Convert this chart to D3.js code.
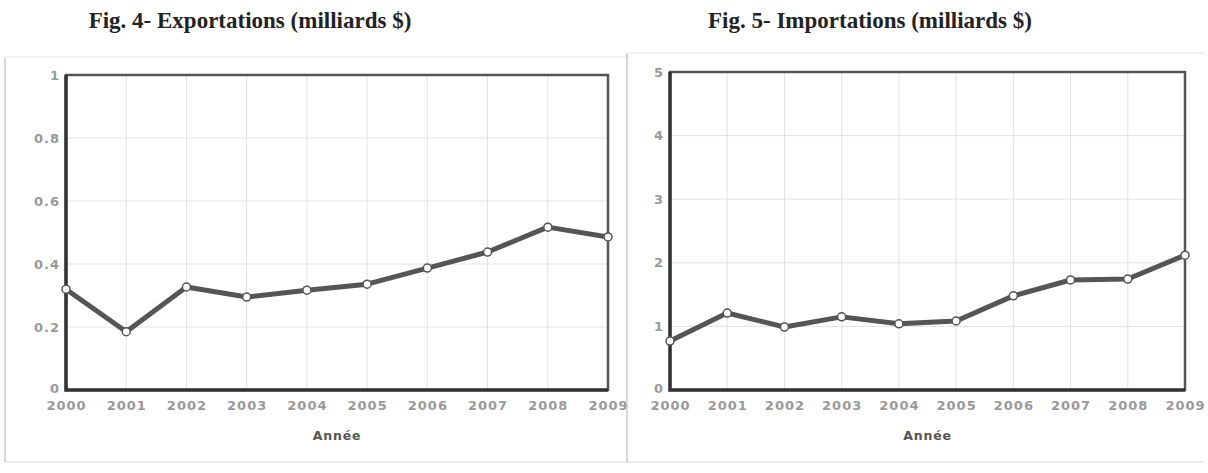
<!DOCTYPE html>
<html>
<head>
<meta charset="utf-8">
<script src="https://cdn.jsdelivr.net/npm/d3@7"></script>
<style>
  body { margin: 0; background: #fff; }
  .title { font-family: "Liberation Serif", "Times New Roman", serif; font-weight: bold; font-size: 23px; fill: #222; }
  .tick text { font-family: "DejaVu Sans", Verdana, sans-serif; font-size: 13px; font-weight: bold; fill: #999; letter-spacing: 1px; }
  .axisTitle { font-family: "DejaVu Sans", Verdana, sans-serif; font-size: 12.5px; font-weight: bold; fill: #555; letter-spacing: 0.8px; }
</style>
</head>
<body>
<script>
// valeurs
var years = [2000, 2001, 2002, 2003, 2004, 2005, 2006, 2007, 2008, 2009];
var exportations = [0.32, 0.185, 0.327, 0.295, 0.317, 0.336, 0.387, 0.438, 0.517, 0.486];
var importations = [0.77, 1.21, 0.99, 1.15, 1.04, 1.085, 1.48, 1.73, 1.745, 2.12];
var ticksExp = [0, 0.2, 0.4, 0.6, 0.8, 1];
var ticksImp = [0, 1, 2, 3, 4, 5];
var titles = ["Fig. 4- Exportations (milliards $)", "Fig. 5- Importations (milliards $)"];
var xLabel = "Année";

var width = 1208, height = 473;

var svg = d3.select("body").append("svg")
    .attr("width", width)
    .attr("height", height);

var panels = [
    {title: titles[0], values: exportations, ticks: ticksExp, yMax: 1,
     box: [5, 57, 630, 462], plot: [66, 75, 608, 390], titleX: 250},
    {title: titles[1], values: importations, ticks: ticksImp, yMax: 5,
     box: [627, 53, 1205, 462], plot: [670, 72, 1185, 390], titleX: 870}
];

function drawPanel(p){
    var g = svg.append("g");

    // cadre du panneau
    g.append("line").attr("x1", p.box[0]).attr("x2", p.box[0]).attr("y1", p.box[1]).attr("y2", p.box[3])
        .attr("stroke", "#ccc").attr("stroke-width", 1.5);
    g.append("line").attr("x1", p.box[0]).attr("x2", p.box[2]).attr("y1", p.box[1]).attr("y2", p.box[1])
        .attr("stroke", "#e6e6e6").attr("stroke-width", 1);
    g.append("line").attr("x1", p.box[0]).attr("x2", p.box[2]).attr("y1", p.box[3]).attr("y2", p.box[3])
        .attr("stroke", "#ddd").attr("stroke-width", 1);

    g.append("text")
        .attr("class", "title")
        .attr("x", p.titleX)
        .attr("y", 28)
        .attr("text-anchor", "middle")
        .text(p.title);

    var x = d3.scaleLinear().domain([years[0], years[years.length - 1]]).range([p.plot[0], p.plot[2]]);
    var y = d3.scaleLinear().domain([0, p.yMax]).range([p.plot[3], p.plot[1]]);

    // grille
    g.append("g").selectAll("line").data(years.slice(1, -1)).enter().append("line")
        .attr("x1", function(d){ return x(d); }).attr("x2", function(d){ return x(d); })
        .attr("y1", p.plot[1]).attr("y2", p.plot[3])
        .attr("stroke", "#e2e2e2").attr("stroke-width", 1);
    g.append("g").selectAll("line").data(p.ticks.slice(1, -1)).enter().append("line")
        .attr("y1", function(d){ return y(d); }).attr("y2", function(d){ return y(d); })
        .attr("x1", p.plot[0]).attr("x2", p.plot[2])
        .attr("stroke", "#e2e2e2").attr("stroke-width", 1);

    // axes
    var axisX = d3.axisBottom(x).tickValues(years).tickFormat(d3.format("d")).tickSize(0).tickPadding(11);
    var gx = g.append("g").attr("transform", "translate(0," + p.plot[3] + ")").call(axisX);
    gx.select(".domain").remove();

    var axisY = d3.axisLeft(y).tickValues(p.ticks).tickFormat(function(d){ return String(d); }).tickSize(0).tickPadding(6);
    var gy = g.append("g").attr("transform", "translate(" + p.plot[0] + ",0)").call(axisY);
    gy.select(".domain").remove();
    gy.selectAll(".tick text").attr("dy", function(d){ return d === 0 ? "0.2em" : "0.32em"; });

    // cadre du graphique
    g.append("rect")
        .attr("x", p.plot[0]).attr("y", p.plot[1])
        .attr("width", p.plot[2] - p.plot[0]).attr("height", p.plot[3] - p.plot[1])
        .attr("fill", "none").attr("stroke", "#555").attr("stroke-width", 2.5);
    g.append("path")
        .attr("d", "M" + p.plot[0] + "," + p.plot[1] + "V" + p.plot[3] + "H" + p.plot[2])
        .attr("fill", "none").attr("stroke", "#333").attr("stroke-width", 3.5);

    g.append("text")
        .attr("class", "axisTitle")
        .attr("x", (p.plot[0] + p.plot[2]) / 2)
        .attr("y", 440)
        .attr("text-anchor", "middle")
        .text(xLabel);

    // courbe
    var line = d3.line()
        .x(function(d, i){ return x(years[i]); })
        .y(function(d){ return y(d); });

    g.append("path")
        .datum(p.values)
        .attr("d", line)
        .attr("fill", "none")
        .attr("stroke", "#555")
        .attr("stroke-width", 5)
        .attr("stroke-linejoin", "round");

    g.append("g").selectAll("circle").data(p.values).enter().append("circle")
        .attr("cx", function(d, i){ return x(years[i]); })
        .attr("cy", function(d){ return y(d); })
        .attr("r", 4)
        .attr("fill", "#fff")
        .attr("stroke", "#555")
        .attr("stroke-width", 1.5);
}

panels.forEach(drawPanel);
</script>
</body>
</html>
